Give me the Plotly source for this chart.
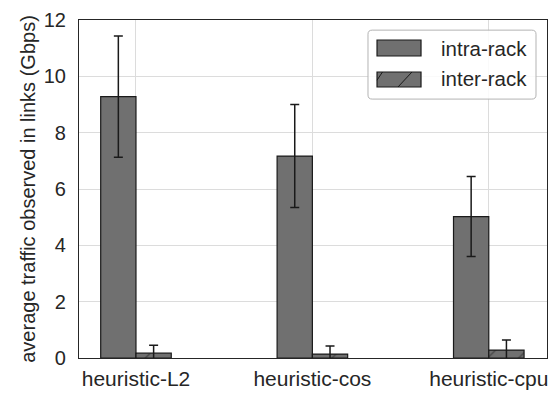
import plotly.graph_objects as go

# Average link traffic per placement heuristic (Gbps), mean and std-dev
categories = ["heuristic-L2", "heuristic-cos", "heuristic-cpu"]
series_names = ["intra-rack", "inter-rack"]
intra_rack = [9.28, 7.17, 5.02]
intra_err = [2.15, 1.83, 1.42]
inter_rack = [0.17, 0.14, 0.28]
inter_err = [0.28, 0.29, 0.36]
y_ticks = [0, 2, 4, 6, 8, 10, 12]

bar_color = "#707070"
edge_color = "#1a1a1a"
text_color = "#262626"
font = "Liberation Sans, Arial, sans-serif"

fig = go.Figure()
fig.add_trace(go.Bar(
    name=series_names[0], x=categories, y=intra_rack, offsetgroup=0,
    marker=dict(color=bar_color, line=dict(color=edge_color, width=1.2)),
    error_y=dict(type="data", array=intra_err, color=edge_color, thickness=1.5, width=4.5),
))
fig.add_trace(go.Bar(
    name=series_names[1], x=categories, y=inter_rack, offsetgroup=1,
    marker=dict(color=bar_color, line=dict(color=edge_color, width=1.2),
                pattern=dict(shape="/", fgcolor=edge_color, bgcolor=bar_color, size=22, solidity=0.06)),
    error_y=dict(type="data", array=inter_err, color=edge_color, thickness=1.5, width=4.5),
))

# Legend box drawn in paper coordinates (rounded frame, wide patches)
bx0, bx1, by0, by1 = 0.6175, 0.9765, 0.766, 0.970
rx, ry = 0.009, 0.012
frame = (f"M {bx0+rx},{by0} L {bx1-rx},{by0} Q {bx1},{by0} {bx1},{by0+ry} "
         f"L {bx1},{by1-ry} Q {bx1},{by1} {bx1-rx},{by1} L {bx0+rx},{by1} "
         f"Q {bx0},{by1} {bx0},{by1-ry} L {bx0},{by0+ry} Q {bx0},{by0} {bx0+rx},{by0} Z")
shapes = [dict(type="path", xref="paper", yref="paper", path=frame,
               fillcolor="rgba(255,255,255,0.85)", line=dict(color="#b3b3b3", width=1), layer="above")]
px0, px1 = 0.6368, 0.7308
rows = [(0.8935, 0.9408), (0.8018, 0.8462)]
for y0, y1 in rows:
    shapes.append(dict(type="rect", xref="paper", yref="paper", x0=px0, x1=px1, y0=y0, y1=y1,
                       fillcolor=bar_color, line=dict(color=edge_color, width=1.2), layer="above"))
# hatch strokes on the inter-rack patch
y0, y1 = rows[1]
shapes.append(dict(type="line", xref="paper", yref="paper", x0=0.6816, y0=y0, x1=0.7115, y1=y1,
                   line=dict(color=edge_color, width=1), layer="above"))
shapes.append(dict(type="line", xref="paper", yref="paper", x0=px0, y0=0.822, x1=0.6485, y1=y1,
                   line=dict(color=edge_color, width=1), layer="above"))

annotations = [
    dict(text=series_names[0], xref="paper", yref="paper", x=0.769, y=0.917,
         xanchor="left", yanchor="middle", showarrow=False, font=dict(size=20.5, color=text_color)),
    dict(text=series_names[1], xref="paper", yref="paper", x=0.769, y=0.826,
         xanchor="left", yanchor="middle", showarrow=False, font=dict(size=20.5, color=text_color)),
]

fig.update_layout(
    width=554, height=394,
    margin=dict(l=79, r=7, t=20, b=36),
    paper_bgcolor="white", plot_bgcolor="white",
    barmode="group", bargap=0.6, bargroupgap=0,
    font=dict(family=font, size=20, color=text_color),
    showlegend=False,
    shapes=shapes, annotations=annotations,
    xaxis=dict(
        range=[-0.323, 2.33], showgrid=True, gridcolor="#dcdcdc", gridwidth=1,
        showline=True, linecolor=text_color, linewidth=1.2, mirror=True, automargin=False,
        ticks="", tickfont=dict(size=21), ticklabelstandoff=2,
    ),
    yaxis=dict(
        range=[0, 12], tickvals=y_ticks, showgrid=True, gridcolor="#dcdcdc", gridwidth=1,
        showline=True, linecolor=text_color, linewidth=1.2, mirror=True, automargin=False,
        ticks="", tickfont=dict(size=20), zeroline=False, ticklabelstandoff=8,
        title=dict(text="average traffic observed in links (Gbps)", font=dict(size=20), standoff=2),
    ),
)

fig.write_html("out.html")
